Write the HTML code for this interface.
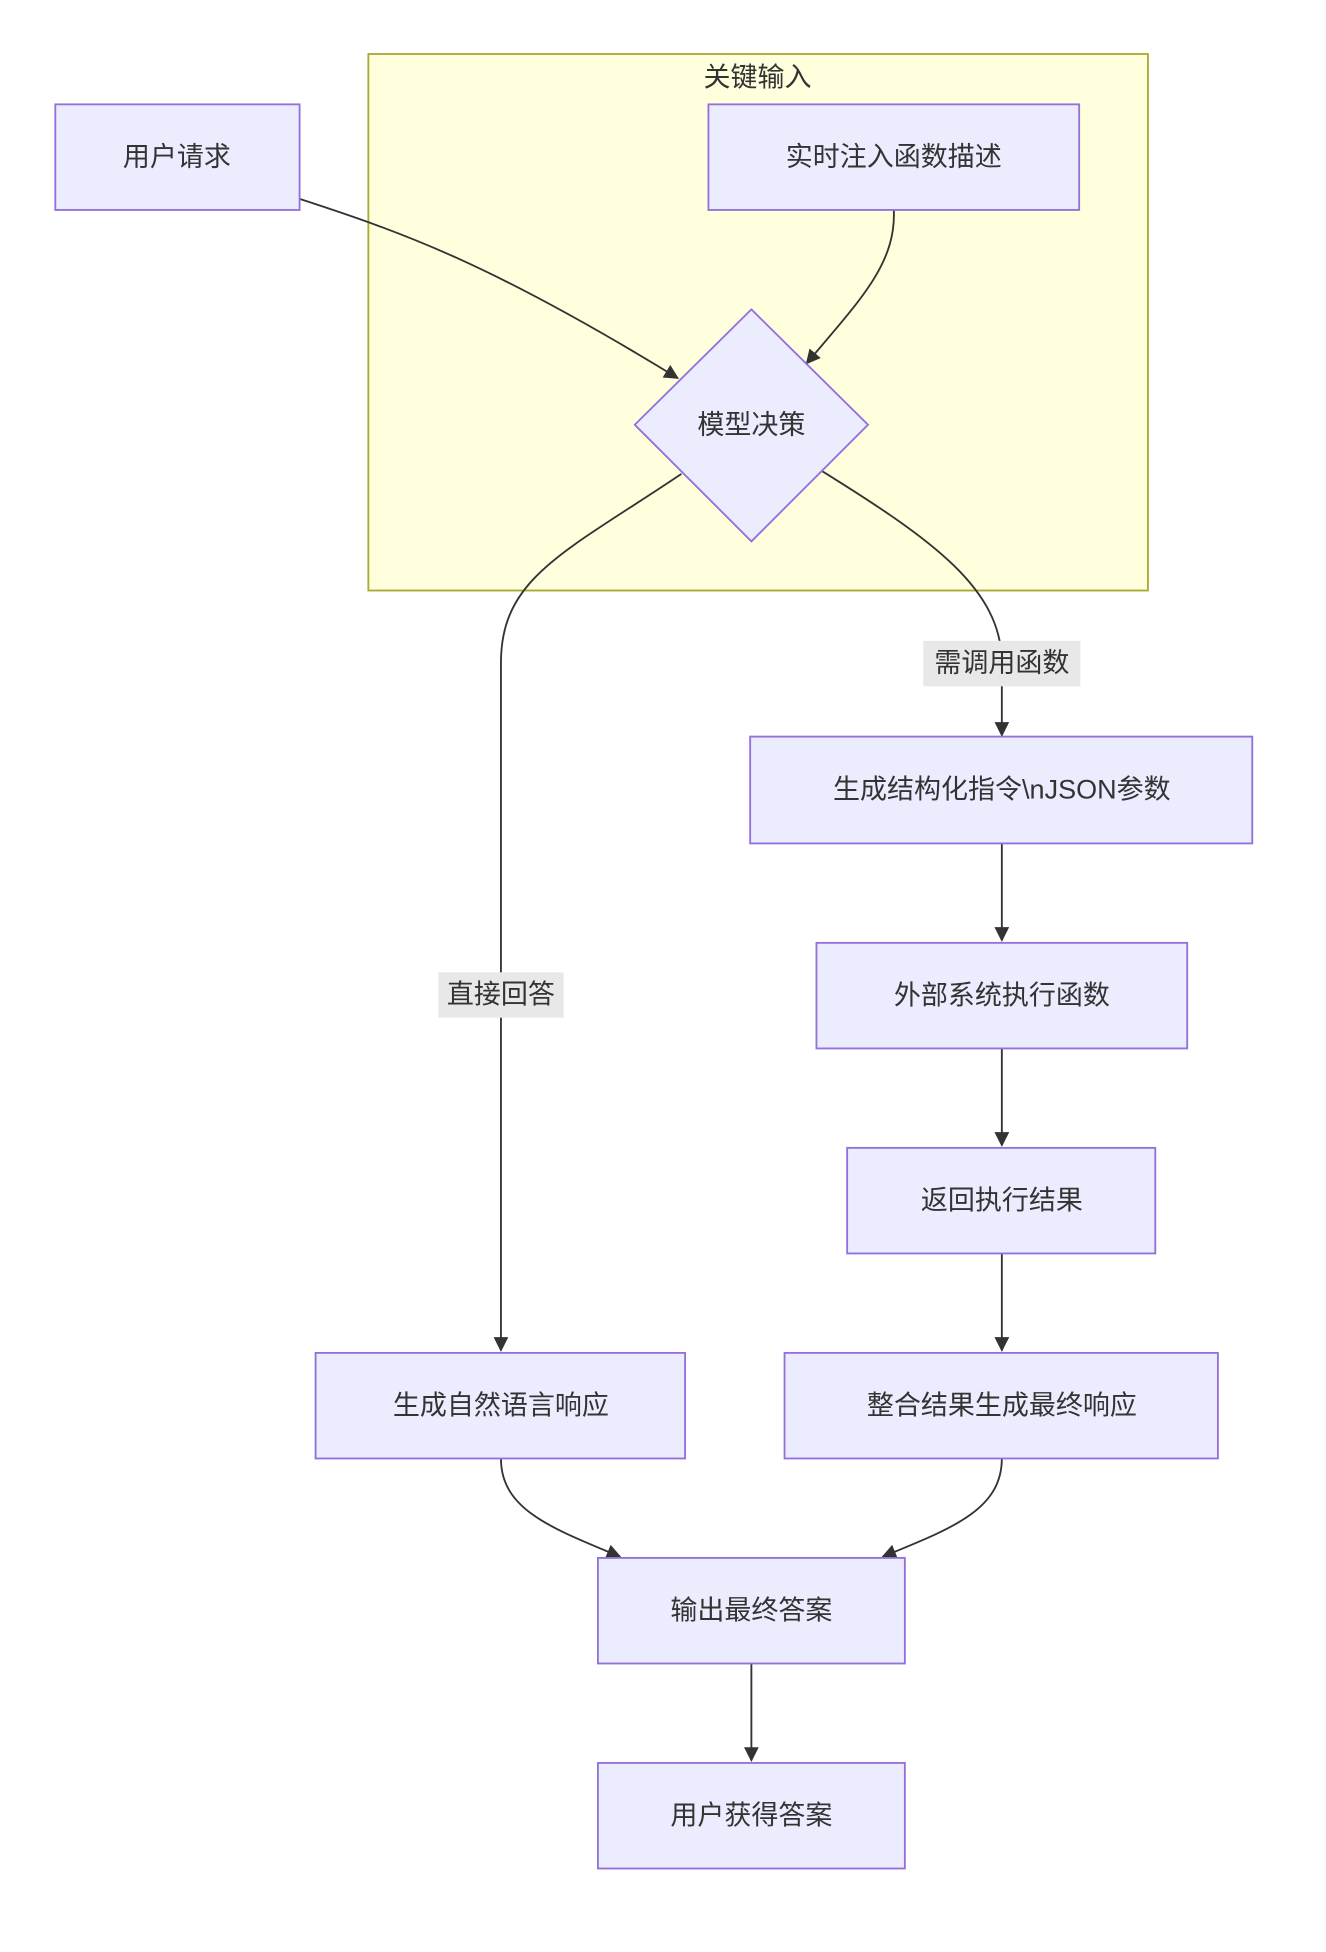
<!DOCTYPE html>
<html><head><meta charset="utf-8"><style>
html,body{margin:0;padding:0;background:#fff;}
svg{display:block;}
text{font-family:"Liberation Sans","Noto Sans CJK SC",sans-serif;fill:#333;font-size:22px;text-anchor:middle;dominant-baseline:central;}
.n{fill:#ECECFF;stroke:#9370DB;stroke-width:1.5;}
.e{fill:none;stroke:#333;stroke-width:1.5;}
</style></head><body>
<svg width="1326" height="1952" viewBox="0 0 1080 1590" xmlns="http://www.w3.org/2000/svg">
<defs><marker id="a" viewBox="0 0 10 10" refX="9" refY="5" markerWidth="8" markerHeight="8" orient="auto"><path d="M0,0L10,5L0,10z" fill="#333"/></marker></defs>
<rect x="300" y="44" width="635" height="437" fill="#FFFFDE" stroke="#AAAA33" stroke-width="1.5"/>
<text x="617" y="63">关键输入</text>
<!-- edges -->
<path class="e" d="M244,162 C330,190 400,215 552,308" marker-end="url(#a)"/>
<path class="e" d="M728,171 C730,215 700,245 657,296" marker-end="url(#a)"/>
<path class="e" d="M555,386 C460,450 408,470 408,540 L408,1100" marker-end="url(#a)"/>
<path class="e" d="M670,384 C760,440 816,480 816,540 L816,599" marker-end="url(#a)"/>
<path class="e" d="M816,687 L816,766" marker-end="url(#a)"/>
<path class="e" d="M816,854 L816,933" marker-end="url(#a)"/>
<path class="e" d="M816,1021 L816,1100" marker-end="url(#a)"/>
<path class="e" d="M408,1188 C408,1230 450,1245 505,1268" marker-end="url(#a)"/>
<path class="e" d="M816,1188 C816,1230 775,1245 719,1268" marker-end="url(#a)"/>
<path class="e" d="M612,1355 L612,1434" marker-end="url(#a)"/>
<!-- labels -->
<rect x="752" y="522" width="128" height="37" fill="#E8E8E8"/>
<text x="816" y="540">需调用函数</text>
<rect x="357" y="792" width="102" height="37" fill="#E8E8E8"/>
<text x="408" y="810">直接回答</text>
<!-- nodes -->
<rect class="n" x="45" y="85" width="199" height="86"/><text x="144" y="128">用户请求</text>
<rect class="n" x="577" y="85" width="302" height="86"/><text x="728" y="128">实时注入函数描述</text>
<polygon class="n" points="612,252 707,346 612,441 517,346"/><text x="612" y="346">模型决策</text>
<rect class="n" x="611" y="600" width="409" height="87"/><text x="816" y="643">生成结构化指令\nJSON参数</text>
<rect class="n" x="665" y="768" width="302" height="86"/><text x="816" y="811">外部系统执行函数</text>
<rect class="n" x="690" y="935" width="251" height="86"/><text x="816" y="978">返回执行结果</text>
<rect class="n" x="639" y="1102" width="353" height="86"/><text x="816" y="1145">整合结果生成最终响应</text>
<rect class="n" x="257" y="1102" width="301" height="86"/><text x="408" y="1145">生成自然语言响应</text>
<rect class="n" x="487" y="1269" width="250" height="86"/><text x="612" y="1312">输出最终答案</text>
<rect class="n" x="487" y="1436" width="250" height="86"/><text x="612" y="1479">用户获得答案</text>
</svg>
</body></html>
